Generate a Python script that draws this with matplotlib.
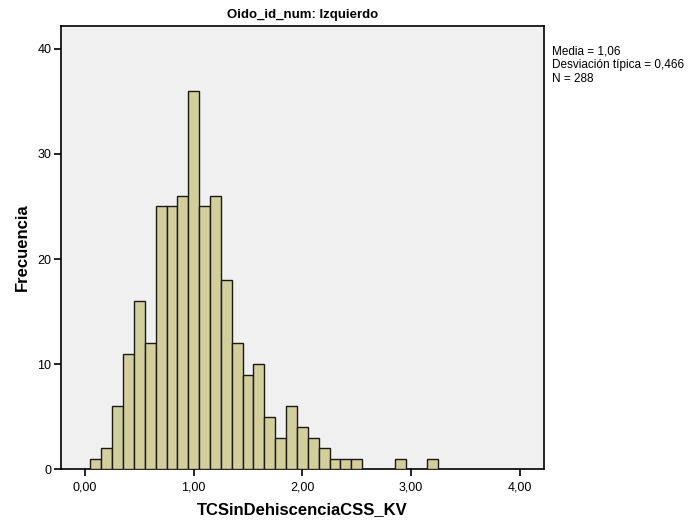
import matplotlib
matplotlib.use("Agg")
import matplotlib.pyplot as plt
import numpy as np

plt.rcParams['font.family'] = ['Liberation Sans', 'DejaVu Sans']

# Histogram bins (centers, width 0.1) and frequencies
bin_centers = [0.1, 0.2, 0.3, 0.4, 0.5, 0.6, 0.7, 0.8, 0.9, 1.0,
               1.1, 1.2, 1.3, 1.4, 1.5, 1.6, 1.7, 1.8, 1.9, 2.0,
               2.1, 2.2, 2.3, 2.4, 2.5, 2.9, 3.2]
frequencies = [1, 2, 6, 11, 16, 12, 25, 25, 26, 36,
               25, 26, 18, 12, 9, 10, 5, 3, 6, 4,
               3, 2, 1, 1, 1, 1, 1]
bin_width = 0.1

x_ticks = [0, 1, 2, 3, 4]
x_tick_labels = ["0,00", "1,00", "2,00", "3,00", "4,00"]
y_ticks = [0, 10, 20, 30, 40]

title = "Oido_id_num: Izquierdo"
x_label = "TCSinDehiscenciaCSS_KV"
y_label = "Frecuencia"
stats_text = "Media = 1,06\nDesviación típica = 0,466\nN = 288"

W, H = 696, 525
fig = plt.figure(figsize=(W / 100, H / 100), dpi=100)
ax = fig.add_axes([61 / W, 1 - 469.3 / H, (543.7 - 61) / W, (469.3 - 26) / H])
ax.set_facecolor('#f0f0f0')

ax.bar(bin_centers, frequencies, width=bin_width, color='#d3cf9a',
       edgecolor='#1a1a1a', linewidth=1.0, align='center', zorder=3)

ax.set_xlim(-0.221, 4.22)
ax.set_ylim(0, 42.16)
ax.set_xticks(x_ticks)
ax.set_xticklabels(x_tick_labels)
ax.set_yticks(y_ticks)

for s in ax.spines.values():
    s.set_linewidth(1.2)
    s.set_color('black')

ax.tick_params(axis='both', direction='out', length=5, width=1.2,
               labelsize=9, colors='black', pad=2)
ax.tick_params(axis='x', pad=4)

ax.set_title(title, fontsize=9.5, fontweight='bold', pad=6)
ax.set_xlabel(x_label, fontsize=12, fontweight='bold', labelpad=6)
ax.set_ylabel(y_label, fontsize=12, fontweight='bold', labelpad=5)

fig.text(552 / W, 1 - 45 / H, stats_text, fontsize=8.5, va='top', ha='left',
         linespacing=1.2)

fig.savefig("out.png", dpi=100)
